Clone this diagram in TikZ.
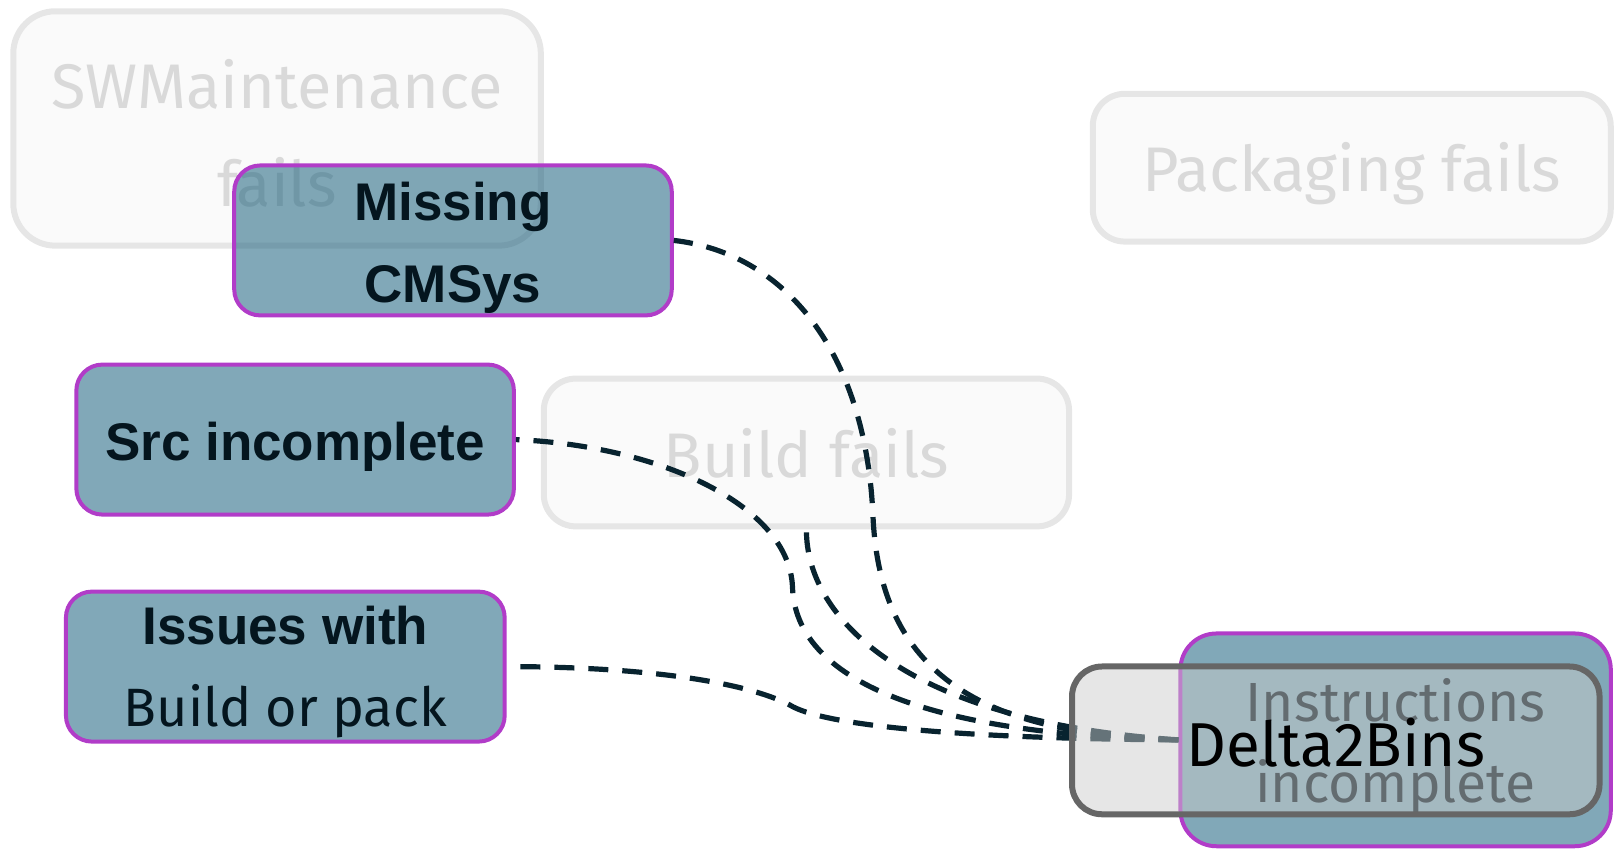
\documentclass[tikz,border=0pt]{standalone}
\usepackage{fontspec}
\setmainfont{Fira Sans}
\newfontfamily\arialfont{Liberation Sans}
\definecolor{ghostfill}{HTML}{FAFAFA}
\definecolor{ghostline}{HTML}{E6E6E6}
\definecolor{ghosttext}{HTML}{D9D9D9}
\definecolor{bluefill}{HTML}{1A617D}
\definecolor{purpleline}{HTML}{B13CC8}
\definecolor{darktext}{HTML}{04151E}
\definecolor{edgecol}{HTML}{08232F}
\definecolor{deltafill}{HTML}{CBCBCB}
\definecolor{deltaline}{HTML}{666666}
\begin{document}
\begin{tikzpicture}[x=0.516pt,y=-0.516pt,
  ghostbox/.style={draw=ghostline,line width=3pt,fill=ghostfill,rounded corners=16pt,inner sep=0pt},
  ghosttxt/.style={text=ghosttext,align=center,inner sep=0pt,font=\fontsize{31.5}{49}\selectfont},
  causebox/.style={draw=purpleline,line width=2pt,fill=bluefill,fill opacity=0.55,
    rounded corners=13pt,inner sep=0pt,minimum width=218.8pt,minimum height=75pt},
  causetxt/.style={text=darktext,align=center,inner sep=0pt},
  boldtxt/.style={font=\arialfont\bfseries\fontsize{26.5}{41}\selectfont},
  deltabox/.style={draw=deltaline,line width=3pt,fill=deltafill,fill opacity=0.48,
    rounded corners=15pt,inner sep=0pt,minimum width=263.8pt,minimum height=73.9pt},
  edge/.style={draw=edgecol,line width=2.6pt,dash pattern=on 10pt off 7pt}]
\useasboundingbox (0,0) rectangle (1568,824);
% faded boxes
\node[ghostbox,minimum width=263.8pt,minimum height=117.2pt,rounded corners=21pt] (sw) at (268.5,124.5) {};
\node[ghosttxt] (swt) at ([yshift=-2.2pt]sw.center) {SWMaintenance\\fails};
\node[ghostbox,minimum width=259pt,minimum height=73.9pt] (pack) at (1310,162.5) {};
\node[ghosttxt] (packt) at ([yshift=-2.8pt]pack.center) {Packaging fails};
\node[ghostbox,minimum width=262.7pt,minimum height=73.9pt] (build) at (781.5,438.5) {};
\node[ghosttxt] (buildt) at ([yshift=-0.5pt]build.center) {Build fails};
% cause boxes
\node[causebox] (missing) at (439,233) {};
\node[causetxt,boldtxt] (missingt) at ([yshift=-3.6pt]missing.center) {Missing\\CMSys};
\node[causebox] (src) at (286,426) {};
\node[causetxt,boldtxt] (srct) at ([yshift=-3.4pt]src.center) {Src incomplete};
\node[causebox,minimum width=219.4pt] (issues) at (276.5,646) {};
\node[causetxt,font=\fontsize{27}{41}\selectfont] (issuest) at ([yshift=-2.5pt]issues.center)
  {{\arialfont\bfseries\fontsize{26.5}{41}\selectfont Issues with}\\Build or pack};
\node[causebox,minimum width=215.2pt,minimum height=106.4pt,rounded corners=18pt] (instr) at (1352.5,717) {};
\node[causetxt,font=\fontsize{27.6}{40.5}\selectfont] (instrt) at ([yshift=-3pt]instr.center) {Instructions\\incomplete};
% connectors (drawn from the common end so the dashes line up there)
\draw[edge] (instr.west) .. controls (960,712) and (853,660) .. (846,500)
  .. controls (839,340) and (760,245) .. (missing.east);
\draw[edge] (instr.west) .. controls (900,712) and (771,660) .. (768,569)
  .. controls (765,490) and (640,432) .. (src.east);
\draw[edge] (instr.west) .. controls (880,700) and (781,600) .. (build.south);
\draw[edge] (instr.west) .. controls (950,716) and (800,705) .. (765,683)
  .. controls (720,660) and (620,646) .. (issues.east);
% overlay box
\node[deltabox] (delta) at (1294.5,717.5) {};
\node[text=black,inner sep=0pt,font=\fontsize{31}{38}\selectfont] (deltat) at ([yshift=-1pt]delta.center) {Delta2Bins};
\end{tikzpicture}
\end{document}
